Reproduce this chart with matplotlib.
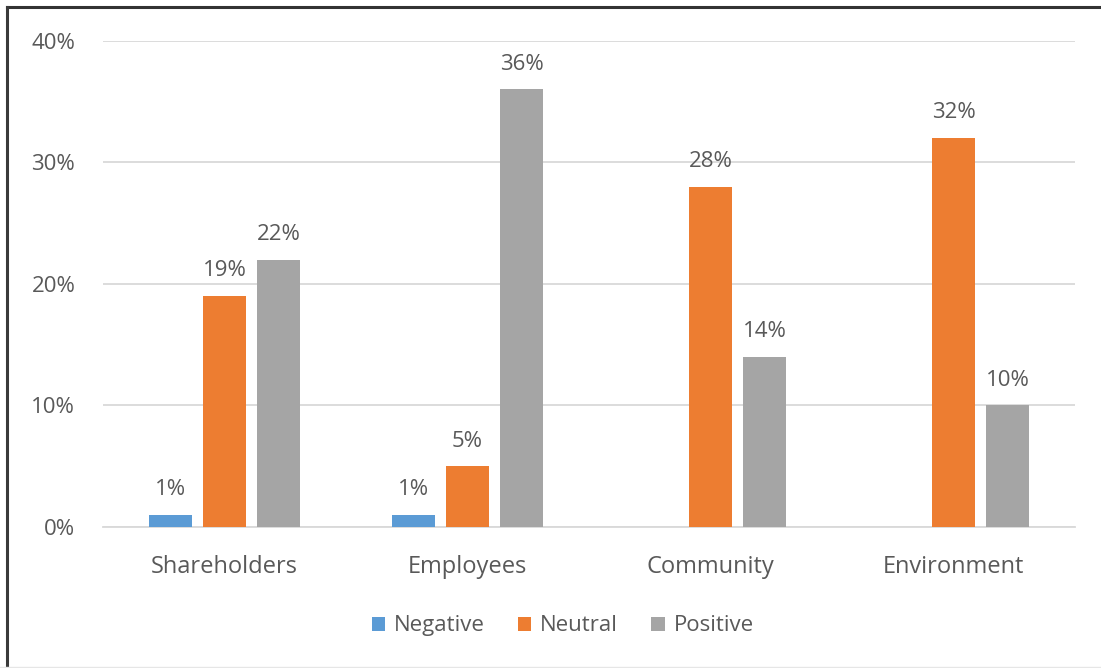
import numpy as np
import matplotlib.pyplot as plt
from matplotlib.lines import Line2D

plt.rcParams['font.family'] = ['Open Sans', 'DejaVu Sans']

categories = ["Shareholders", "Employees", "Community", "Environment"]
series = ["Negative", "Neutral", "Positive"]
negative = [1, 1, None, None]
neutral = [19, 5, 28, 32]
positive = [22, 36, 14, 10]
colors = ["#5B9BD5", "#ED7D31", "#A5A5A5"]
text_color = "#595959"
fs = 16

fig = plt.figure(figsize=(11.01, 6.68), dpi=100)
ax = fig.add_axes([0.0936, 0.211, 0.883, 0.728])

x = np.arange(len(categories))
step = 0.222
width = 0.177

for i, (name, vals, col) in enumerate(zip(series, [negative, neutral, positive], colors)):
    xs = [xi + (i - 1) * step for xi, v in zip(x, vals) if v is not None]
    vs = [v for v in vals if v is not None]
    bars = ax.bar(xs, vs, width=width, color=col, label=name, zorder=3)
    for b, v in zip(bars, vs):
        ax.text(b.get_x() + b.get_width() / 2, v + 1.2, f"{v}%",
                ha="center", va="bottom", fontsize=fs, color=text_color)

ax.set_xlim(-0.5, 3.5)
ax.set_ylim(0, 40)
ax.set_yticks([0, 10, 20, 30, 40])
ax.set_yticklabels([f"{t}%" for t in [0, 10, 20, 30, 40]])
ax.set_xticks(x)
ax.set_xticklabels(categories)
ax.tick_params(axis="both", length=0, labelsize=fs, labelcolor=text_color)
ax.tick_params(axis="x", labelsize=fs + 1)
ax.tick_params(axis="y", pad=20)
ax.tick_params(axis="x", pad=20)
ax.grid(axis="y", color="#D9D9D9", linewidth=1.3, zorder=0)
for s in ["top", "right", "left"]:
    ax.spines[s].set_visible(False)
ax.spines["bottom"].set_color("#D9D9D9")
ax.spines["bottom"].set_linewidth(1.3)

leg = fig.legend(loc="center", bbox_to_anchor=(0.511, 0.063), ncol=3, frameon=False,
                 fontsize=fs, handlelength=0.6, handleheight=0.6,
                 handletextpad=0.4, columnspacing=1.5)
for t in leg.get_texts():
    t.set_color(text_color)

# frame: dark top and left edges, faint bottom edge
fig.add_artist(Line2D([0.0064, 1.0], [0.9895, 0.9895], transform=fig.transFigure,
                      color="#333333", linewidth=2.2))
fig.add_artist(Line2D([0.0064, 0.0064], [0.0, 0.9895], transform=fig.transFigure,
                      color="#3A3A3A", linewidth=2.2))
fig.add_artist(Line2D([0.0, 1.0], [0.002, 0.002], transform=fig.transFigure,
                      color="#E6E6E6", linewidth=1.0))

fig.savefig("out.png", dpi=100)
